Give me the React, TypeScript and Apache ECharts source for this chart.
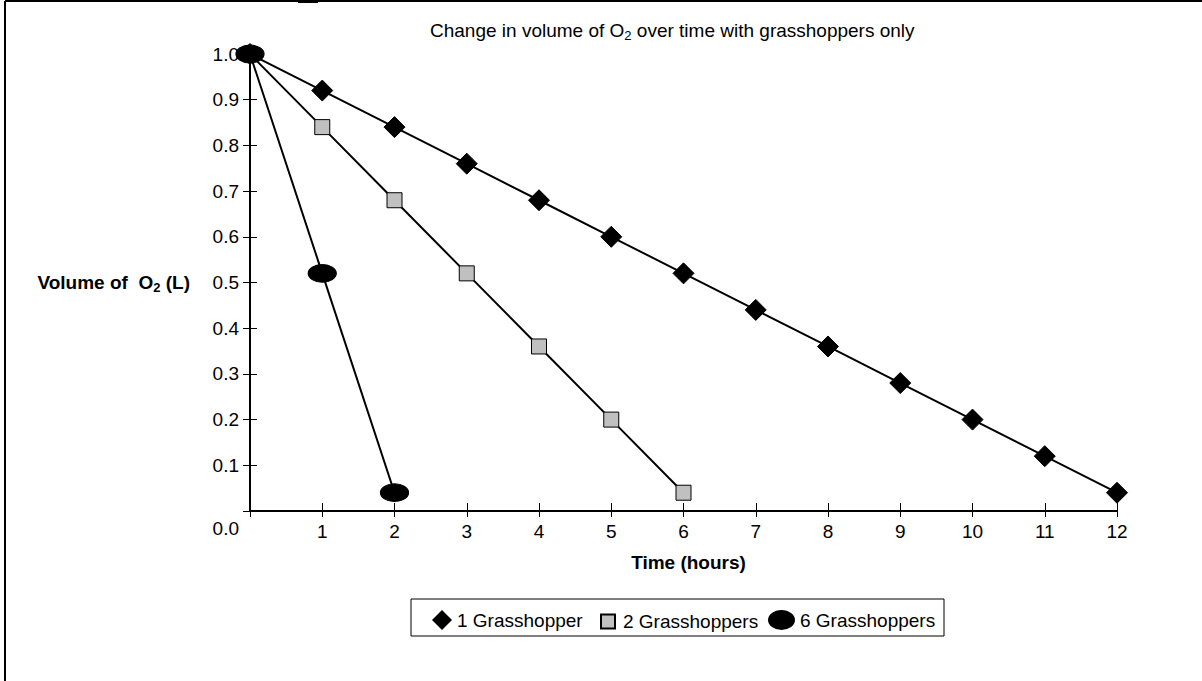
import React, { useEffect, useRef } from "react";
import * as echarts from "echarts";

const hours = [0, 1, 2, 3, 4, 5, 6, 7, 8, 9, 10, 11, 12];
const oneGrasshopper = [1.0, 0.92, 0.84, 0.76, 0.68, 0.6, 0.52, 0.44, 0.36, 0.28, 0.2, 0.12, 0.04];
const twoGrasshoppers = [1.0, 0.84, 0.68, 0.52, 0.36, 0.2, 0.04];
const sixGrasshoppers = [1.0, 0.52, 0.04];
const seriesNames = ["1 Grasshopper", "2 Grasshoppers", "6 Grasshoppers"];

const FONT = "Liberation Sans, Arial, Helvetica, sans-serif";
const FS = 19;
const ELLIPSE = "path://M0,10 A10,10 0 1,1 20,10 A10,10 0 1,1 0,10 Z";
const LEGEND_ELLIPSE = "path://M0,10 A13.5,10 0 1,1 27,10 A13.5,10 0 1,1 0,10 Z";

function pairs(vals: number[]) {
  return vals.map((v, i) => [hours[i], v]);
}

export default function App() {
  const ref = useRef<HTMLDivElement>(null);
  useEffect(() => {
    const chart = echarts.init(ref.current!, null, { renderer: "svg" });
    const legendText = { color: "#000", fontSize: FS, fontFamily: FONT };
    chart.setOption({
      animation: false,
      backgroundColor: "#fff",
      title: {
        text: "{a|Change in volume of O}{s|2}{a| over time with grasshoppers only}",
        left: 425,
        top: 14,
        textStyle: {
          rich: {
            a: { fontSize: 19, fontWeight: "normal", fontFamily: FONT, color: "#000" },
            s: { fontSize: 13, fontWeight: "normal", fontFamily: FONT, color: "#000", padding: [10, 0, 0, 0] },
          },
        },
      },
      grid: { left: 250, right: 85, top: 54, bottom: 170 },
      xAxis: [
        {
          type: "value",
          min: 0,
          max: 12,
          interval: 1,
          splitLine: { show: false },
          axisLine: { lineStyle: { color: "#000", width: 2 } },
          axisTick: { show: true, inside: false, length: 6, lineStyle: { color: "#000", width: 1 } },
          axisLabel: {
            color: "#000",
            fontSize: FS,
            fontFamily: FONT,
            margin: 11,
            formatter: (v: number) => (v === 0 ? "" : String(v)),
          },
          name: "Time (hours)",
          nameLocation: "middle",
          nameGap: 42,
          nameTextStyle: { color: "#000", fontSize: FS, fontWeight: "bold", fontFamily: FONT, padding: [0, 0, 0, 10] },
        },
        {
          type: "value",
          min: 0,
          max: 12,
          interval: 1,
          position: "bottom",
          splitLine: { show: false },
          axisLine: { show: false },
          axisTick: { show: true, inside: true, length: 8, lineStyle: { color: "#000", width: 1 } },
          axisLabel: { show: false },
        },
      ],
      yAxis: [
        {
          type: "value",
          min: 0,
          max: 1,
          interval: 0.1,
          splitLine: { show: false },
          axisLine: { show: true, lineStyle: { color: "#000", width: 2 } },
          axisTick: { show: true, inside: false, length: 7, lineStyle: { color: "#000", width: 1 } },
          axisLabel: {
            color: "#000",
            fontSize: FS,
            fontFamily: FONT,
            margin: 11,
            formatter: (v: number) => (Math.abs(v) < 1e-9 ? "{z|0.0}" : v.toFixed(1)),
            rich: { z: { fontSize: FS, fontFamily: FONT, color: "#000", padding: [34, 0, 0, 0] } },
          },
          name: "{b|Volume of  O}{s|2}{b| (L)}",
          nameLocation: "middle",
          nameRotate: 0,
          nameGap: 60,
          nameTextStyle: {
            align: "right",
            rich: {
              b: { fontSize: FS, fontWeight: "bold", fontFamily: FONT, color: "#000" },
              s: { fontSize: 13, fontWeight: "bold", fontFamily: FONT, color: "#000", padding: [9, 0, 0, 0] },
            },
          },
        },
        {
          type: "value",
          min: 0,
          max: 1,
          interval: 0.1,
          position: "left",
          splitLine: { show: false },
          axisLine: { show: false },
          axisTick: { show: true, inside: true, length: 7, lineStyle: { color: "#000", width: 1 } },
          axisLabel: { show: false },
        },
      ],
      legend: [
        {
          data: [{ name: seriesNames[0], icon: "diamond" }],
          left: 427,
          top: 605,
          itemWidth: 20,
          itemHeight: 20,
          textStyle: legendText,
        },
        {
          data: [{ name: seriesNames[1], icon: "rect" }],
          left: 595,
          top: 607,
          itemWidth: 14,
          itemHeight: 14,
          textStyle: { ...legendText, padding: [0, 0, 0, 3] },
        },
        {
          data: [{ name: seriesNames[2], icon: LEGEND_ELLIPSE }],
          left: 763,
          top: 605,
          itemWidth: 27,
          itemHeight: 20,
          textStyle: legendText,
        },
      ],
      graphic: [
        { type: "line", shape: { x1: 5, y1: 1, x2: 1202, y2: 1 }, style: { stroke: "#000", lineWidth: 2 } },
        { type: "line", shape: { x1: 5, y1: 1, x2: 5, y2: 681 }, style: { stroke: "#000", lineWidth: 2 } },
        { type: "rect", shape: { x: 298, y: 0, width: 20, height: 3 }, style: { fill: "#000" } },
        {
          type: "rect",
          shape: { x: 411, y: 599, width: 533, height: 37 },
          style: { fill: "none", stroke: "#000", lineWidth: 1 },
          z: -1,
        },
      ],
      series: [
        {
          name: seriesNames[0],
          type: "line",
          data: pairs(oneGrasshopper),
          symbol: "diamond",
          symbolSize: 21,
          lineStyle: { color: "#000", width: 2 },
          itemStyle: { color: "#000", borderColor: "#000" },
        },
        {
          name: seriesNames[1],
          type: "line",
          data: pairs(twoGrasshoppers),
          symbol: "rect",
          symbolSize: 15,
          lineStyle: { color: "#000", width: 2 },
          itemStyle: { color: "#c0c0c0", borderColor: "#000", borderWidth: 1 },
        },
        {
          name: seriesNames[2],
          type: "line",
          data: pairs(sixGrasshoppers),
          symbol: ELLIPSE,
          symbolSize: [28, 18],
          lineStyle: { color: "#000", width: 2 },
          itemStyle: { color: "#000", borderColor: "#000" },
        },
      ],
    });
    return () => chart.dispose();
  }, []);
  return (
    <div
      ref={ref}
      style={{ position: "fixed", left: 0, top: 0, width: 1202, height: 681 }}
    />
  );
}
